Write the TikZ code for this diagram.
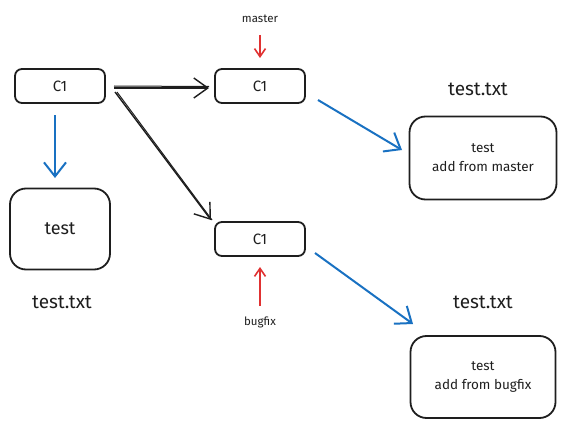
\documentclass[tikz,border=0pt]{standalone}
\usepackage{fontspec}
\setmainfont{Fira Sans}
\usetikzlibrary{arrows.meta}
\definecolor{sketchblue}{HTML}{1971C2}
\definecolor{sketchred}{HTML}{E03131}
\definecolor{ink}{HTML}{1E1E1E}
\begin{document}
\begin{tikzpicture}[x=1pt,y=-1pt,
  commit/.style={draw=ink,line width=1.8pt,rounded corners=7pt,minimum width=90pt,minimum height=34pt,font=\fontsize{15}{17}\selectfont,text=ink},
  filebox/.style={draw=ink,line width=1.8pt,rounded corners=16pt,text=ink,align=center},
  fname/.style={font=\fontsize{19}{21}\selectfont,text=ink},
  branch/.style={font=\fontsize{11.5}{13}\selectfont,text=ink},
  flow/.style={draw=ink,line width=1.4pt,-{Straight Barb[length=14pt,width=20pt,line width=1.4pt]}},
  link/.style={draw=sketchblue,line width=2pt,-{Straight Barb[length=14pt,width=22pt,line width=2pt]}},
  pointer/.style={draw=sketchred,line width=1.6pt,-{Straight Barb[length=8pt,width=11pt,line width=1.6pt]}}]
\useasboundingbox (0,0) rectangle (568,428);

% commits
\node[commit] (c0) at (60,86) {C1};
\node[commit] (cm) at (260,86) {C1};
\node[commit] (cb) at (260,239) {C1};

% file contents
\node[filebox,minimum width=100pt,minimum height=81pt,font=\fontsize{18}{20}\selectfont] (f0) at (60,229) {test};
\node[filebox,minimum width=147pt,minimum height=83pt,font=\fontsize{13.5}{19}\selectfont] (fm) at (483,158) {test\\add from master};
\node[filebox,minimum width=145pt,minimum height=82pt,font=\fontsize{13.5}{19}\selectfont] (fb) at (483,377) {test\\add from bugfix};

% file names
\node[fname] (n0) at (62,302) {test.txt};
\node[fname] (nm) at (478,89) {test.txt};
\node[fname] (nb) at (483,302) {test.txt};

% branch labels
\node[branch] (lm) at (260,19) {master};
\node[branch] (lb) at (260,322) {bugfix};
\coordinate (lmtip) at (260,58);
\coordinate (lbtip) at (260,267);
\draw[pointer] (260,35) -- (lmtip);
\draw[pointer] (260,306) -- (lbtip);

% history
\coordinate (a0) at (114,88);
\coordinate (a1) at (209,88);
\coordinate (b0) at (115,92);
\coordinate (b1) at (211,220);
\draw[flow] (a0) -- (a1);
\draw[ink,line width=1pt] ([yshift=2pt]a0) -- ([yshift=1.5pt]a1);
\draw[flow] (b0) -- (b1);
\draw[ink,line width=1pt] ([xshift=2pt]b0) -- ([xshift=1pt]b1);

% snapshots
\coordinate (s0) at (55,115);
\coordinate (s1) at (55,178);
\draw[link] (s0) -- (s1);
\coordinate (m0) at (318,100);
\coordinate (m1) at (402,150);
\draw[link] (m0) -- (m1);
\coordinate (k0) at (315,253);
\coordinate (k1) at (413,324);
\draw[link] (k0) -- (k1);
\end{tikzpicture}
\end{document}
